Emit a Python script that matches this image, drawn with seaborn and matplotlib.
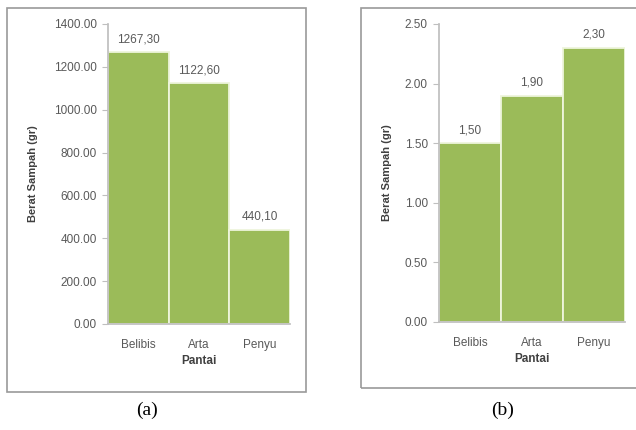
import matplotlib
matplotlib.use("Agg")
import matplotlib.pyplot as plt
from matplotlib.patches import Rectangle
from matplotlib.ticker import FixedLocator, FuncFormatter
import pandas as pd
import seaborn as sns

# Data: waste weight per beach
pantai = ["Belibis", "Arta", "Penyu"]
berat_a = [1267.30, 1122.60, 440.10]
pantai_b = ["Belibis", "Arta", "Penyu"]
berat_b = [1.50, 1.90, 2.30]
yticks_a = [0, 200, 400, 600, 800, 1000, 1200, 1400]
yticks_b = [0.0, 0.5, 1.0, 1.5, 2.0, 2.5]

sns.set_theme(style="white")
plt.rcParams["font.family"] = ["Liberation Sans", "DejaVu Sans"]

W, H = 636, 430
fig = plt.figure(figsize=(W / 100, H / 100), dpi=100)
fig.patch.set_facecolor("white")

GREEN = "#9BBB59"
TXT = "#595959"


def px_axes(x0, x1, ytop, ybot):
    return [x0 / W, (H - ybot) / H, (x1 - x0) / W, (ybot - ytop) / H]


def frame(x0, y0, x1, y1):
    fig.patches.append(Rectangle((x0 / W, (H - y1) / H), (x1 - x0) / W, (y1 - y0) / H,
                                 transform=fig.transFigure, fill=False,
                                 edgecolor="#9a9a9a", linewidth=1.2, zorder=0))


def panel(ax, cats, vals, ticks, ymax):
    df = pd.DataFrame({"Pantai": cats, "Berat": vals})
    sns.barplot(data=df, x="Pantai", y="Berat", ax=ax, color=GREEN,
                width=1.0, edgecolor="#eef5dc", linewidth=1.3, saturation=1)
    ax.set_xlim(-0.5, len(cats) - 0.5)
    ax.set_ylim(0, ymax)
    ax.yaxis.set_major_locator(FixedLocator(ticks))
    ax.yaxis.set_major_formatter(FuncFormatter(lambda v, p: f"{v:.2f}"))
    for s in ["top", "right"]:
        ax.spines[s].set_visible(False)
    ax.spines["left"].set_color("#bfbfbf")
    ax.spines["bottom"].set_color("#bfbfbf")
    ax.tick_params(axis="y", left=True, length=4, width=0.8, color="#bfbfbf",
                   labelsize=8.5, labelcolor=TXT, pad=4)
    ax.tick_params(axis="x", bottom=False, labelsize=8.5, labelcolor=TXT, pad=5)
    ax.set_xlabel("Pantai", fontsize=8.5, fontweight="bold", color="#404040", labelpad=3)
    ax.set_ylabel("Berat Sampah (gr)", fontsize=8, fontweight="bold", color="#404040")
    for i, v in enumerate(vals):
        ax.annotate(f"{v:.2f}".replace(".", ","), (i, v), xytext=(0, 5),
                    textcoords="offset points", ha="center", va="bottom",
                    fontsize=8.5, color=TXT)


frame(7, 8, 306, 392)
frame(361, 8, 645, 388)

ax_a = fig.add_axes(px_axes(108, 290, 24, 324))
panel(ax_a, pantai, berat_a, yticks_a, 1400)
ax_a.yaxis.set_label_coords(-0.385, 0.5)

ax_b = fig.add_axes(px_axes(439, 625, 24, 322))
panel(ax_b, pantai_b, berat_b, yticks_b, 2.5)
ax_b.yaxis.set_label_coords(-0.253, 0.5)

fig.text(147 / W, 1 - 410 / H, "(a)", ha="center", va="center",
         fontsize=14, family=["Liberation Serif", "DejaVu Serif"], color="black")
fig.text(503 / W, 1 - 410 / H, "(b)", ha="center", va="center",
         fontsize=14, family=["Liberation Serif", "DejaVu Serif"], color="black")

fig.savefig("out.png", dpi=100, facecolor="white")
